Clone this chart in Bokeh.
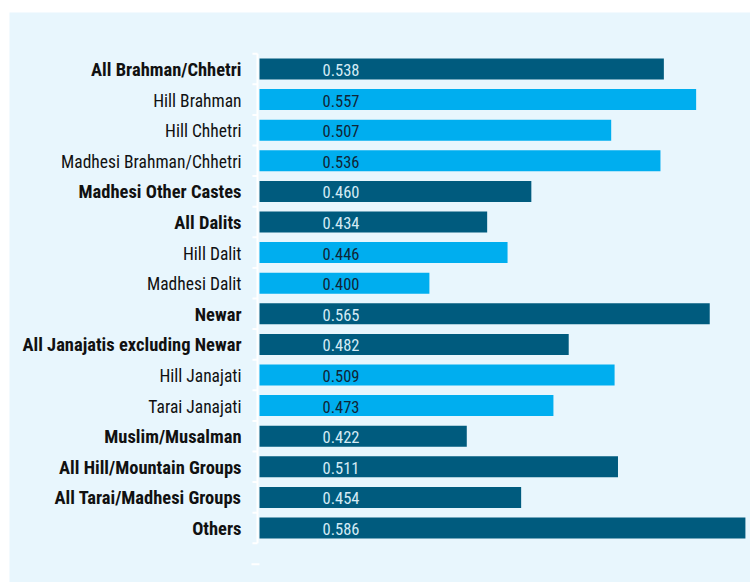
from bokeh.plotting import figure
from bokeh.models import ColumnDataSource, Range1d
from bokeh.core.properties import value
from bokeh.embed import file_html
from bokeh.resources import INLINE

categories = ["All Brahman/Chhetri", "Hill Brahman", "Hill Chhetri", "Madhesi Brahman/Chhetri",
              "Madhesi Other Castes", "All Dalits", "Hill Dalit", "Madhesi Dalit", "Newar",
              "All Janajatis excluding Newar", "Hill Janajati", "Tarai Janajati",
              "Muslim/Musalman", "All Hill/Mountain Groups", "All Tarai/Madhesi Groups", "Others"]
values = [0.538, 0.557, 0.507, 0.536, 0.460, 0.434, 0.446, 0.400, 0.565,
          0.482, 0.509, 0.473, 0.422, 0.511, 0.454, 0.586]
is_group = [True, False, False, False, True, True, False, False, True,
            True, False, False, True, True, True, True]

DARK = "#005b7e"
LIGHT = "#00aeef"
BG = "#e8f6fd"
FONT = "Roboto Condensed"

base = 0.3
px_per_unit = 1699.0
frame_w = 741
left_px = 250
row_px = 30.6
frame_h = 570
top_rows = 1.846

n = len(categories)
ys = list(range(n))
src = ColumnDataSource(dict(
    y=ys, v=values, cat=categories,
    vtxt=["%.3f" % v for v in values],
    color=[DARK if g else LIGHT for g in is_group],
    tcolor=["#d4ebf5" if g else "#102536" for g in is_group],
    fstyle=["bold" if g else "normal" for g in is_group],
    fsize=["18.5px" if g else "17.5px" for g in is_group],
))

x0 = base - left_px / px_per_unit
x1 = x0 + frame_w / px_per_unit
y_top = -top_rows
y_bot = y_top + frame_h / row_px

p = figure(width=750, height=582, output_backend="svg", toolbar_location=None,
           x_range=Range1d(x0, x1), y_range=Range1d(y_bot, y_top),
           min_border_left=9, min_border_top=12, min_border_right=0, min_border_bottom=0)
p.background_fill_color = BG
p.border_fill_color = "white"
p.outline_line_color = None
p.xaxis.visible = False
p.yaxis.visible = False
p.grid.visible = False

p.hbar(y="y", left=base, right="v", height=0.686, color="color", line_color=None, source=src)

p.text(x=base, y="y", text="vtxt", x_offset=63, y_offset=1, text_align="left", text_baseline="middle",
       text_color="tcolor", text_font=value(FONT), text_font_size="16.5px", source=src)

p.text(x=base, y="y", text="cat", x_offset=-18, y_offset=1, text_align="right", text_baseline="middle",
       text_color="#111111", text_font=value(FONT), text_font_style="fstyle",
       text_font_size="fsize", source=src)

# axis line and ticks
ax_x = base - 2 / px_per_unit
p.segment(x0=[ax_x], y0=[-0.5], x1=[ax_x], y1=[n - 0.5], line_color="white", line_width=2)
bounds = [i - 0.5 for i in range(n + 1)]
p.segment(x0=[ax_x - 5 / px_per_unit] * len(bounds), y0=bounds,
          x1=[ax_x] * len(bounds), y1=bounds, line_color="white", line_width=2)
extra = n - 0.5 + 0.686
p.segment(x0=[ax_x - 6 / px_per_unit], y0=[extra], x1=[ax_x + 2 / px_per_unit], y1=[extra],
          line_color="white", line_width=2)

open("out.html", "w").write(file_html(p, INLINE))
